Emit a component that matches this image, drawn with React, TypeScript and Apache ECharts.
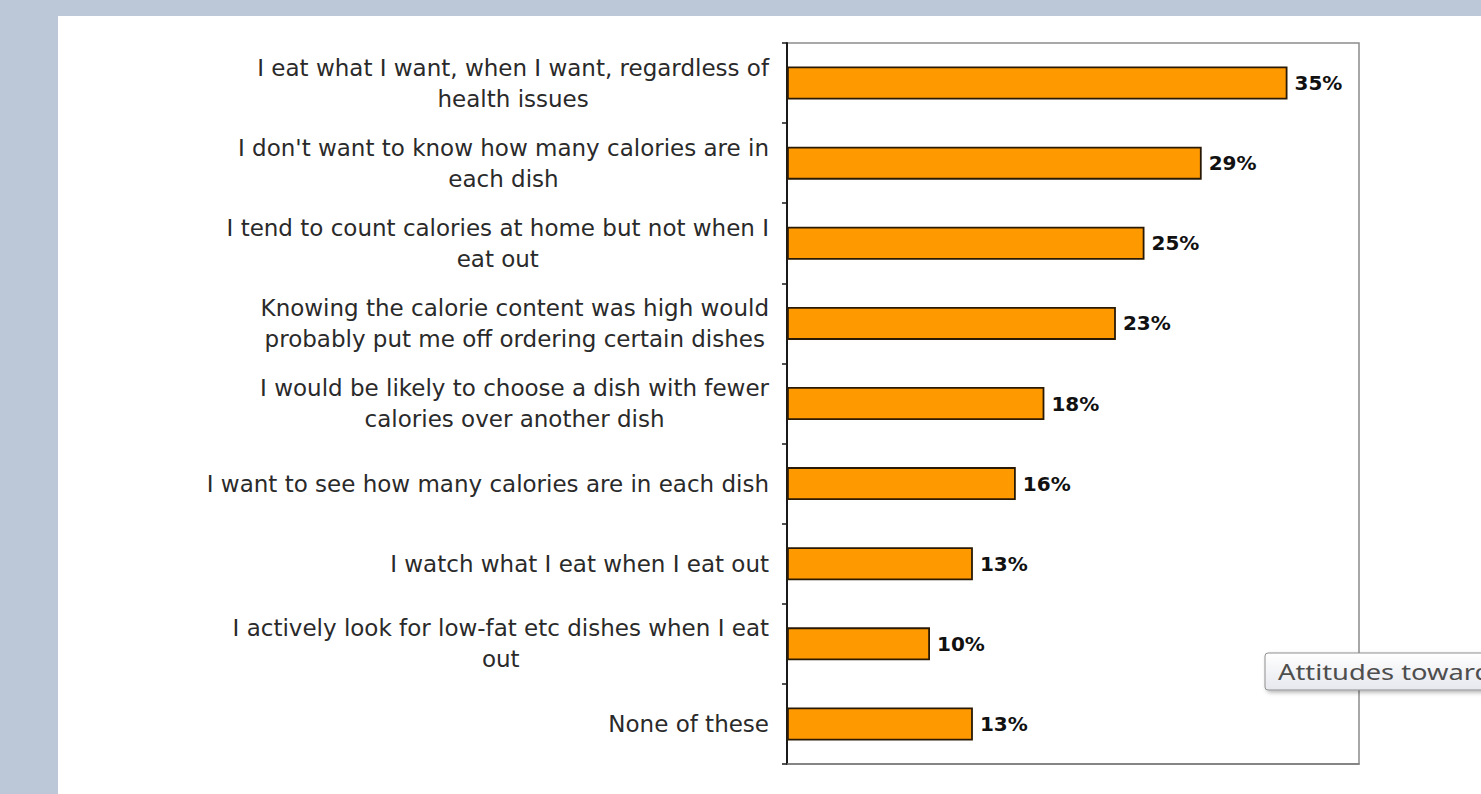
import React, { useEffect, useRef } from "react";
import * as echarts from "echarts";

const categories: string[] = [
  "I eat what I want, when I want, regardless of\nhealth issues",
  "I don't want to know how many calories are in\neach dish",
  "I tend to count calories at home but not when I\neat out",
  "Knowing the calorie content was high would\nprobably put me off ordering certain dishes",
  "I would be likely to choose a dish with fewer\ncalories over another dish",
  "I want to see how many calories are in each dish",
  "I watch what I eat when I eat out",
  "I actively look for low-fat etc dishes when I eat\nout",
  "None of these",
];
const values: number[] = [35, 29, 25, 23, 18, 16, 13, 10, 13];
const valueMin = 0;
const valueMax = 40;
const tooltipText = "Attitudes towards";

const FONT = "'DejaVu Sans', 'Liberation Sans', sans-serif";

export default function App() {
  const ref = useRef<HTMLDivElement>(null);

  useEffect(() => {
    if (!ref.current) return;
    const chart = echarts.init(ref.current, undefined, { renderer: "svg" });
    chart.setOption({
      animation: false,
      backgroundColor: "#bcc8d8",
      textStyle: { fontFamily: FONT },
      graphic: [
        {
          type: "rect",
          z: -100,
          shape: { x: 58, y: 16, width: 1481 - 58, height: 794 - 16 },
          style: { fill: "#ffffff" },
          silent: true,
        },
        {
          type: "group",
          z: 100,
          children: [
            {
              type: "rect",
              z: 100,
              shape: { x: 1265, y: 653, width: 240, height: 37, r: 3 },
              style: {
                fill: new echarts.graphic.LinearGradient(0, 0, 0, 1, [
                  { offset: 0, color: "#ffffff" },
                  { offset: 1, color: "#e6e8ee" },
                ]),
                stroke: "#8f8f8f",
                lineWidth: 1,
                shadowBlur: 4,
                shadowOffsetX: 2,
                shadowOffsetY: 2,
                shadowColor: "rgba(0,0,0,0.3)",
              },
            },
            {
              type: "text",
              z: 101,
              x: 1278,
              y: 672,
              scaleX: 1.3,
              style: {
                text: tooltipText,
                font: "21px 'Noto Sans', 'Open Sans', sans-serif",
                fill: "#4e4e4e",
                verticalAlign: "middle",
                align: "left",
              },
            },
          ],
        },
      ],
      grid: {
        left: 787,
        right: 122,
        top: 43,
        bottom: 30,
        containLabel: false,
        outerBoundsMode: "none",
        show: true,
        backgroundColor: "#ffffff",
        borderColor: "#8c8c8c",
        borderWidth: 1.5,
      },
      xAxis: {
        type: "value",
        min: valueMin,
        max: valueMax,
        axisLine: { show: true, lineStyle: { color: "#7a7a7a", width: 1.5 } },
        axisTick: { show: false },
        axisLabel: { show: false },
        splitLine: { show: false },
      },
      yAxis: {
        type: "category",
        data: categories,
        inverse: true,
        axisLine: { show: true, lineStyle: { color: "#1a1a1a", width: 2 } },
        axisTick: { show: true, length: 5, lineStyle: { color: "#1a1a1a", width: 1.5 } },
        axisLabel: {
          margin: 18,
          fontFamily: FONT,
          fontSize: 23,
          lineHeight: 31,
          color: "#2a2a2a",
          formatter: (v: string) =>
            v
              .split("\n")
              .map((l) => `{c|${l}}`)
              .join("\n"),
          rich: {
            c: {
              align: "center",
              fontFamily: FONT,
              fontSize: 23,
              lineHeight: 31,
              color: "#2a2a2a",
            },
          },
        },
        splitLine: { show: false },
      },
      series: [
        {
          type: "bar",
          data: values,
          barWidth: 33,
          itemStyle: {
            color: "#ff9900",
            borderColor: "#2a1a05",
            borderWidth: 1.8,
          },
          label: {
            show: true,
            position: "right",
            distance: 7,
            formatter: "{c}%",
            fontFamily: FONT,
            fontWeight: "bold",
            fontSize: 20,
            color: "#111111",
          },
        },
      ],
    });
    return () => chart.dispose();
  }, []);

  return (
    <div
      ref={ref}
      style={{ position: "fixed", left: 0, top: 0, width: 1481, height: 794 }}
    />
  );
}
